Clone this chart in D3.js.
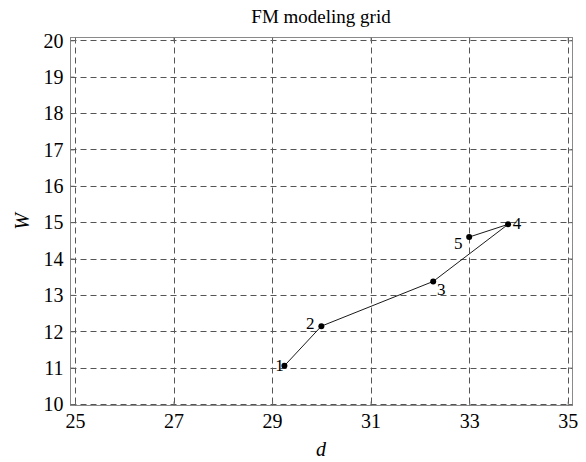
<!DOCTYPE html>
<html>
<head>
<meta charset="utf-8">
<script src="https://cdn.jsdelivr.net/npm/d3@7/dist/d3.min.js"></script>
<style>
  html, body { margin: 0; padding: 0; background: #fff; }
  svg { display: block; }
  svg text { font-family: "Liberation Serif", "Times New Roman", serif; fill: #000; }
</style>
</head>
<body>
<svg id="chart" width="586" height="462"></svg>
<script>
// Grid points (d, W) with their labels, in path order
const pointLabels = ["1", "2", "3", "4", "5"];
const dValues = [29.25, 30.0, 32.27, 33.79, 33.0];
const wValues = [11.05, 12.14, 13.37, 14.94, 14.59];

const xTicks = [25, 27, 29, 31, 33, 35];
const yTicks = [10, 11, 12, 13, 14, 15, 16, 17, 18, 19, 20];

const svg = d3.select("#chart");

// Frame box and scale ranges
const frame = { left: 70.5, right: 572.5, top: 37.5, bottom: 405.5 };
const x = d3.scaleLinear().domain([25, 35]).range([75, 567.7]);
const y = d3.scaleLinear().domain([10, 20]).range([404, 40.3]);

// Dashed grid
const grid = svg.append("g").attr("stroke", "#555").attr("stroke-width", 1)
  .attr("stroke-dasharray", "6,4").attr("fill", "none");
grid.selectAll("line.v").data(xTicks).join("line").attr("class", "v")
  .attr("x1", d => Math.round(x(d)) + 0.5).attr("x2", d => Math.round(x(d)) + 0.5)
  .attr("y1", frame.top).attr("y2", frame.bottom);
grid.selectAll("line.h").data(yTicks).join("line").attr("class", "h")
  .attr("y1", d => Math.round(y(d)) + 0.5).attr("y2", d => Math.round(y(d)) + 0.5)
  .attr("x1", frame.left).attr("x2", frame.right);

// Frame
svg.append("rect")
  .attr("x", frame.left).attr("y", frame.top)
  .attr("width", frame.right - frame.left).attr("height", frame.bottom - frame.top)
  .attr("fill", "none").attr("stroke", "#8a8a8a").attr("stroke-width", 1);

// Axes on frame edges (inward ticks)
const tickLen = 4;
const axB = svg.append("g").attr("transform", `translate(0,${frame.bottom})`)
  .call(d3.axisBottom(x).tickValues(xTicks).tickSize(-tickLen).tickPadding(6).tickFormat(d3.format("d")));
const axT = svg.append("g").attr("transform", `translate(0,${frame.top})`)
  .call(d3.axisTop(x).tickValues(xTicks).tickSize(-tickLen).tickFormat(""));
const axL = svg.append("g").attr("transform", `translate(${frame.left},0)`)
  .call(d3.axisLeft(y).tickValues(yTicks).tickSize(-tickLen).tickPadding(6).tickFormat(d3.format("d")));
const axR = svg.append("g").attr("transform", `translate(${frame.right},0)`)
  .call(d3.axisRight(y).tickValues(yTicks).tickSize(-tickLen).tickFormat(""));
[axB, axT, axL, axR].forEach(a => {
  a.attr("font-family", null).attr("font-size", null);
  a.select(".domain").remove();
  a.selectAll(".tick line").attr("stroke", "#666");
  a.selectAll(".tick text").attr("font-size", 20).attr("fill", "#000");
});
axB.selectAll(".tick text").attr("dy", "0.82em");
axL.selectAll(".tick text").attr("dx", "-1").attr("dy", "0.34em");

// Path through the grid points
const pts = dValues.map((d, i) => ({ d, w: wValues[i], label: pointLabels[i] }));
svg.append("path").datum(pts)
  .attr("fill", "none").attr("stroke", "#000").attr("stroke-width", 0.9)
  .attr("d", d3.line().x(p => x(p.d)).y(p => y(p.w)));
svg.selectAll("circle.pt").data(pts).join("circle").attr("class", "pt")
  .attr("cx", p => x(p.d)).attr("cy", p => y(p.w)).attr("r", 3).attr("fill", "#000");

// Point labels
const labelOffset = { "1": [-5, -1], "2": [-11, -3], "3": [8, 8], "4": [9, -1], "5": [-11, 6] };
svg.selectAll("text.pl").data(pts).join("text").attr("class", "pl")
  .attr("x", p => x(p.d) + labelOffset[p.label][0])
  .attr("y", p => y(p.w) + labelOffset[p.label][1])
  .attr("text-anchor", "middle").attr("dy", "0.35em")
  .attr("font-size", 17).text(p => p.label);

// Title and axis labels
svg.append("text").attr("x", 321).attr("y", 23).attr("text-anchor", "middle")
  .attr("font-size", 19).text("FM modeling grid");
svg.append("text").attr("x", 321).attr("y", 456).attr("text-anchor", "middle")
  .attr("font-size", 20).attr("font-style", "italic").text("d");
svg.append("text").attr("transform", `translate(29,${(frame.top + frame.bottom) / 2}) rotate(-90)`)
  .attr("text-anchor", "middle").attr("font-size", 20).attr("font-style", "italic").text("W");
</script>
</body>
</html>
